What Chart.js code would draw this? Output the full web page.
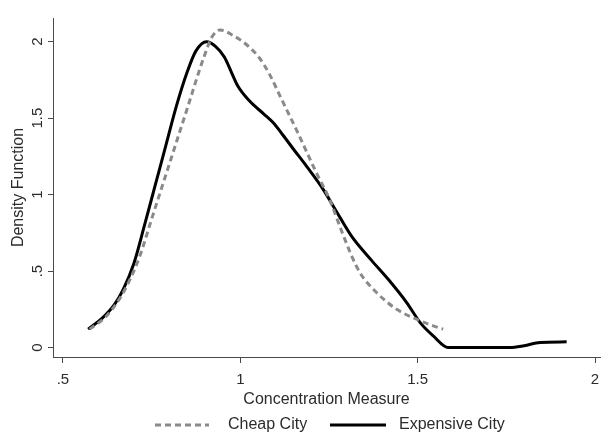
<!DOCTYPE html>
<html>
<head>
<meta charset="utf-8">
<script src="https://cdn.jsdelivr.net/npm/chart.js@4"></script>
<style>
  html, body { margin: 0; padding: 0; background: #ffffff; }
  #wrap { width: 611px; height: 434px; }
</style>
</head>
<body>
<div id="wrap"><canvas id="c" width="611" height="434"></canvas></div>
<script>
// Kernel density estimates of the concentration measure
const cheapX = [0.575, 0.62, 0.66, 0.69, 0.717, 0.75, 0.80, 0.85, 0.896, 0.92, 0.943, 0.98, 1.018, 1.055, 1.084, 1.115, 1.159, 1.215, 1.252, 1.281, 1.31, 1.337, 1.384, 1.441, 1.497, 1.54, 1.572];
const cheapY = [0.12, 0.2, 0.32, 0.45, 0.60, 0.84, 1.20, 1.56, 1.89, 2.03, 2.077, 2.04, 1.98, 1.89, 1.78, 1.63, 1.42, 1.14, 0.967, 0.79, 0.62, 0.49, 0.36, 0.25, 0.185, 0.145, 0.12];

const expensiveX = [0.571, 0.61, 0.645, 0.67, 0.70, 0.73, 0.76, 0.79, 0.82, 0.85, 0.875, 0.905, 0.93, 0.955, 0.975, 0.993, 1.027, 1.065, 1.093, 1.12, 1.149, 1.187, 1.234, 1.271, 1.313, 1.37, 1.417, 1.469, 1.507, 1.544, 1.586, 1.65, 1.76, 1.80, 1.845, 1.92];
const expensiveY = [0.12, 0.19, 0.28, 0.38, 0.55, 0.80, 1.06, 1.32, 1.58, 1.80, 1.94, 2.0, 1.97, 1.90, 1.80, 1.71, 1.61, 1.53, 1.47, 1.39, 1.30, 1.185, 1.033, 0.89, 0.73, 0.57, 0.446, 0.294, 0.163, 0.076, 0.0, 0.0, 0.0, 0.012, 0.033, 0.037];

const xTicks = [0.5, 1, 1.5, 2];
const yTicks = [0, 0.5, 1, 1.5, 2];
const seriesNames = ['Cheap City', 'Expensive City'];

const FONT = '"Liberation Sans", Arial, sans-serif';
const TEXT = '#2b2b2b';
const AXIS = '#4a4a4a';

// Stata-style tick text: drop the leading zero (".5")
const fmt = v => String(v).replace(/^0\./, '.');

const toPoints = (xs, ys) => xs.map((x, i) => ({ x: x, y: ys[i] }));

// Vertical y tick labels and the bottom legend
const extras = {
  id: 'extras',
  afterDraw(chart) {
    const ctx = chart.ctx;
    const ys = chart.scales.y;
    ctx.save();
    ctx.fillStyle = TEXT;
    ctx.font = '15px ' + FONT;
    ctx.textAlign = 'center';
    ctx.textBaseline = 'middle';
    yTicks.forEach(v => {
      const py = ys.getPixelForValue(v);
      ctx.save();
      ctx.translate(38, py);
      ctx.rotate(-Math.PI / 2);
      ctx.fillText(fmt(v), 0, 0);
      ctx.restore();
    });

    // legend
    const ly = 425;
    const ds = chart.data.datasets;
    const items = [
      { x0: 155, x1: 209, tx: 228, d: ds[0] },
      { x0: 330, x1: 386, tx: 399, d: ds[1] }
    ];
    items.forEach(it => {
      ctx.beginPath();
      ctx.strokeStyle = it.d.borderColor;
      ctx.lineWidth = it.d.borderWidth;
      ctx.setLineDash(it.d.borderDash || []);
      ctx.moveTo(it.x0, ly);
      ctx.lineTo(it.x1, ly);
      ctx.stroke();
      ctx.setLineDash([]);
      ctx.fillStyle = TEXT;
      ctx.font = '16px ' + FONT;
      ctx.textAlign = 'left';
      ctx.textBaseline = 'middle';
      ctx.fillText(it.d.label, it.tx, ly);
    });
    ctx.restore();
  }
};

new Chart(document.getElementById('c'), {
  type: 'line',
  data: {
    datasets: [
      {
        label: seriesNames[0],
        data: toPoints(cheapX, cheapY),
        borderColor: '#8a8a8a',
        borderWidth: 3,
        borderDash: [6, 4],
        pointRadius: 0,
        cubicInterpolationMode: 'monotone',
        fill: false
      },
      {
        label: seriesNames[1],
        data: toPoints(expensiveX, expensiveY),
        borderColor: '#000000',
        borderWidth: 3,
        pointRadius: 0,
        cubicInterpolationMode: 'monotone',
        fill: false
      }
    ]
  },
  options: {
    responsive: false,
    animation: false,
    events: [],
    layout: { padding: { left: 0, top: 18, right: 11, bottom: 0 } },
    plugins: {
      legend: { display: false },
      tooltip: { enabled: false }
    },
    scales: {
      x: {
        type: 'linear',
        min: 0.472,
        max: 2.014,
        afterBuildTicks: s => { s.ticks = xTicks.map(v => ({ value: v })); },
        afterFit: s => { s.height = 77; },
        grid: { display: true, drawOnChartArea: false, drawTicks: true, tickLength: 6, color: AXIS, lineWidth: 1 },
        border: { display: true, color: AXIS, width: 1 },
        ticks: {
          color: TEXT,
          font: { family: FONT, size: 15 },
          padding: 8,
          maxRotation: 0,
          callback: v => fmt(v)
        },
        title: {
          display: true,
          text: 'Concentration Measure',
          color: TEXT,
          font: { family: FONT, size: 16 },
          padding: { top: 0, bottom: 25 }
        }
      },
      y: {
        type: 'linear',
        min: -0.062,
        max: 2.155,
        afterBuildTicks: s => { s.ticks = yTicks.map(v => ({ value: v })); },
        afterFit: s => { s.width = 53; },
        grid: { display: true, drawOnChartArea: false, drawTicks: true, tickLength: 5, color: AXIS, lineWidth: 1 },
        border: { display: true, color: AXIS, width: 1 },
        ticks: { display: false },
        title: {
          display: true,
          text: 'Density Function',
          color: TEXT,
          font: { family: FONT, size: 16 },
          padding: { top: 9, bottom: 0 }
        }
      }
    }
  },
  plugins: [extras]
});
</script>
</body>
</html>
